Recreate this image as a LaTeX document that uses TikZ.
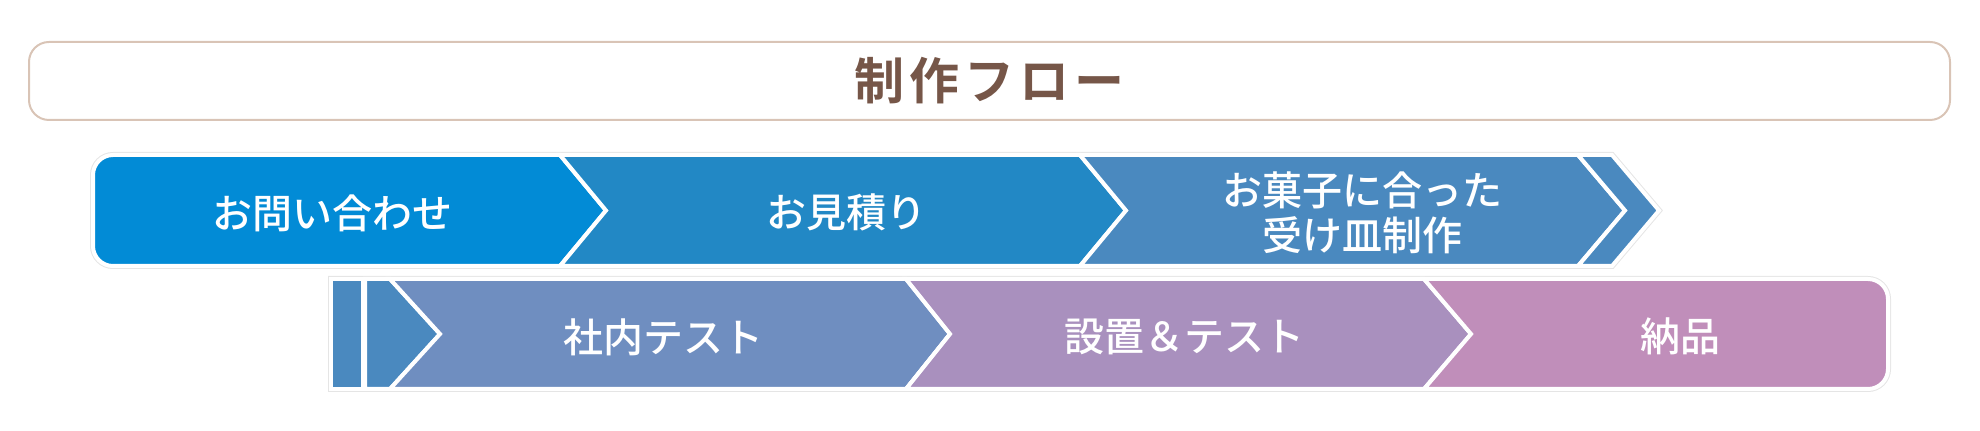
\documentclass[tikz,border=0pt]{standalone}
\usepackage{fontspec}
\newfontfamily\jp{Noto Sans CJK JP Medium}[BoldFont={Noto Sans CJK JP Bold}]
\definecolor{titlebrown}{RGB}{118,86,72}
\definecolor{titleline}{RGB}{217,196,182}
\definecolor{step1}{RGB}{2,139,214}
\definecolor{step2}{RGB}{34,136,197}
\definecolor{step3}{RGB}{74,137,191}
\definecolor{step4}{RGB}{111,142,192}
\definecolor{step5}{RGB}{169,144,190}
\definecolor{step6}{RGB}{192,142,186}

\begin{document}
\begin{tikzpicture}[x=0.5pt, y=-0.5pt,
  every node/.style = {font=\jp\fontsize{20pt}{22.5pt}\selectfont,
    text=white, align=center, inner sep=0pt}]
    \tikzstyle{rowline}=[draw=black!10, line width=3pt]
    \tikzstyle{arrowpart}=[draw=white, line width=2pt]
  \useasboundingbox (0,0) rectangle (1980,431);
  \node [draw=titleline, line width=1pt, rounded corners=10pt,
    minimum width=960.5pt, minimum height=39pt, text=titlebrown,
    font=\jp\bfseries\fontsize{25pt}{25pt}\selectfont\addfontfeature{LetterSpace=10}]
    (title) at (989.5,81) {制作フロー};
  \draw [rowline] (1612,155) -- (1659,210.5) -- (1612,266) -- (300,266)
    [rounded corners=10pt] -- (93,266) -- (93,155) -- (300,155)
    [sharp corners] -- cycle;
  \draw [rowline] (331,279) -- (1700,279) [rounded corners=10pt] -- (1888,279)
    -- (1888,389) -- (1700,389) [sharp corners] -- (331,389) -- cycle;
  \path [fill=step1, arrowpart] (560,155) -- (606,210.5) -- (560,266) -- (300,266)
    [rounded corners=10pt] -- (93,266) -- (93,155) -- (300,155) [sharp corners] -- cycle;
  \path [fill=step2, arrowpart] (560,155) -- (1080,155) -- (1126,210.5)
    -- (1080,266) -- (560,266) -- (606,210.5) -- cycle;
  \path [fill=step3, arrowpart] (1080,155) -- (1578,155) -- (1625,210.5)
    -- (1578,266) -- (1080,266) -- (1126,210.5) -- cycle;
  \path [fill=step3, arrowpart] (1578,155) -- (1612,155) -- (1659,210.5)
    -- (1612,266) -- (1578,266) -- (1625,210.5) -- cycle;
  \path [fill=step3, arrowpart] (331,279) rectangle (363,389);
  \path [fill=step3, arrowpart] (365,279) -- (390,279) -- (440,334)
    -- (390,389) -- (365,389) -- cycle;
  \path [fill=step4, arrowpart] (390,279) -- (906,279) -- (950,334)
    -- (906,389) -- (390,389) -- (440,334) -- cycle;
  \path [fill=step5, arrowpart] (906,279) -- (1424,279) -- (1471,334)
    -- (1424,389) -- (906,389) -- (950,334) -- cycle;
  \path [fill=step6, arrowpart] (1424,279) -- (1700,279) [rounded corners=10pt]
    -- (1888,279) -- (1888,389) -- (1700,389) [sharp corners] -- (1424,389)
    -- (1471,334) -- cycle;
  \node (inquiry) at (332,213) {お問い合わせ};
  \node (estimate) at (846,212) {お見積り};
  \node (plate) at (1362,212.5) {お菓子に合った\\受け皿制作};
  \node (intest) at (663,337) {社内テスト};
  \node (install) at (1184,337) {設置＆テスト};
  \node (deliver) at (1680,336) {納品};
\end{tikzpicture}
\end{document}
